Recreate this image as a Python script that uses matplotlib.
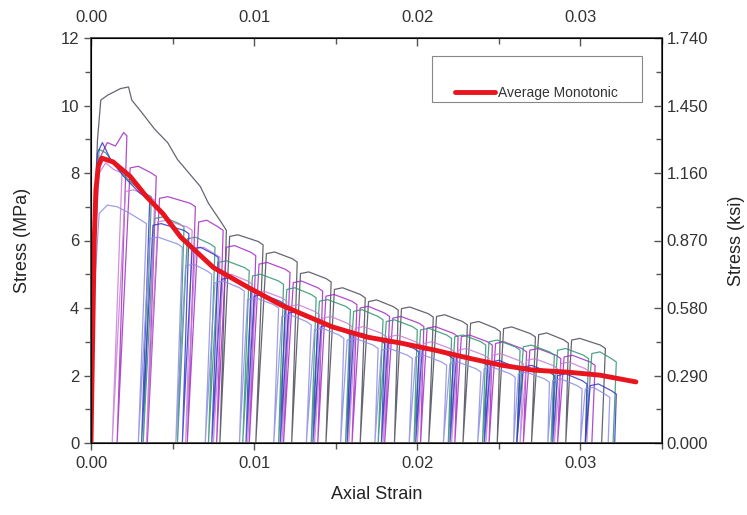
import matplotlib
matplotlib.use("Agg")
import matplotlib.pyplot as plt
from matplotlib.lines import Line2D
from matplotlib.patches import Rectangle
from matplotlib.ticker import MultipleLocator, FormatStrFormatter

plt.rcParams['font.family'] = ['Liberation Sans', 'DejaVu Sans']

# ---------------- data ----------------
# average monotonic curve
avg_strain = [0, 0.0001, 0.0002, 0.0003, 0.00045, 0.00066, 0.00135, 0.0024, 0.0034,
              0.0044, 0.0055, 0.0075, 0.0096, 0.0116, 0.0128, 0.0148, 0.0169, 0.019,
              0.021, 0.0231, 0.0251, 0.0271, 0.0292, 0.0312, 0.0334]
avg_stress = [0, 3.0, 6.0, 7.5, 8.2, 8.44, 8.33, 7.9, 7.3, 6.8, 6.1, 5.2, 4.62, 4.1,
              3.85, 3.44, 3.14, 2.96, 2.76, 2.52, 2.31, 2.16, 2.1, 2.01, 1.81]

# specimen 1 (dark gray)
s1_pre_strain = [0, 0.0002, 0.0004, 0.0006, 0.0010, 0.0018, 0.0023, 0.0025, 0.0031,
                 0.0039, 0.0047, 0.0053, 0.0060, 0.0067, 0.0072, 0.0079]
s1_pre_stress = [0, 6.5, 9.0, 10.16, 10.3, 10.5, 10.55, 10.16, 9.8, 9.3, 8.9, 8.4,
                 8.0, 7.6, 7.1, 6.6]
s1_top_strain = [0.0083, 0.01055, 0.01264, 0.01472, 0.01681, 0.01883, 0.02098,
                 0.02307, 0.02509, 0.02724, 0.02926, 0.03153]
s1_top_stress = [6.3, 5.87, 5.36, 4.77, 4.3, 3.94, 3.73, 3.5, 3.3, 3.14, 2.96, 2.8]
s1_res_strain = [0.0079, 0.0101, 0.0123, 0.0144, 0.0165, 0.0186, 0.0207, 0.0228,
                 0.0249, 0.0270, 0.0291, 0.0313]

# specimen 2 (magenta)
s2_pre_strain = [0, 0.0002, 0.0005, 0.0010, 0.0015, 0.0020]
s2_pre_stress = [0, 5.5, 8.4, 8.9, 8.8, 9.2]
s2_top_strain = [0.0022, 0.0040, 0.0064, 0.0081, 0.0101, 0.0122, 0.0142, 0.0163,
                 0.0183, 0.0204, 0.0225, 0.0246, 0.0267, 0.0288, 0.0309]
s2_top_stress = [9.1, 7.9, 7.0, 6.3, 5.55, 5.05, 4.5, 4.1, 3.75, 3.45, 3.15, 2.9,
                 2.7, 2.5, 2.3]
s2_res_strain = [0.0016, 0.00345, 0.0059, 0.0077, 0.0097, 0.0118, 0.0139, 0.0160,
                 0.0180, 0.0202, 0.0223, 0.0244, 0.0265, 0.0286, 0.0307]

# specimen 3 (green)
s3_pre_strain = [0, 0.0002, 0.0005, 0.0009, 0.0015, 0.0025, 0.0033]
s3_pre_stress = [0, 6.0, 8.7, 8.6, 8.2, 7.7, 7.4]
s3_top_strain = [0.0037, 0.0057, 0.0076, 0.0097, 0.0118, 0.0138, 0.0159, 0.0179,
                 0.0200, 0.0221, 0.0242, 0.0263, 0.0284, 0.0305, 0.0322]
s3_top_stress = [7.3, 6.4, 5.8, 5.1, 4.7, 4.3, 3.95, 3.65, 3.35, 3.1, 2.9, 2.75,
                 2.6, 2.5, 2.4]
s3_res_strain = [0.0032, 0.0053, 0.0072, 0.0093, 0.0115, 0.0135, 0.0156, 0.0176,
                 0.0198, 0.0219, 0.0240, 0.0261, 0.0282, 0.0303, 0.0320]

# specimen 4 (pink violet)
s4_pre_strain = [0, 0.0002, 0.0005, 0.0009, 0.0014]
s4_pre_stress = [0, 5.5, 8.0, 8.3, 8.1]
s4_top_strain = [0.0019, 0.0039, 0.0062, 0.0079, 0.0099, 0.0120, 0.0140, 0.0160,
                 0.0181, 0.0202, 0.0223, 0.0244, 0.0265, 0.0286, 0.0306]
s4_top_stress = [8.0, 7.2, 6.3, 5.5, 4.7, 4.2, 3.8, 3.45, 3.15, 2.9, 2.7, 2.5,
                 2.35, 2.2, 2.1]
s4_res_strain = [0.0013, 0.0034, 0.0058, 0.0075, 0.0096, 0.0117, 0.0137, 0.0158,
                 0.0179, 0.0200, 0.0221, 0.0242, 0.0263, 0.0284, 0.0304]

# specimen 5 (blue)
s5_pre_strain = [0, 0.0002, 0.0004, 0.0007, 0.0012, 0.0020, 0.0030]
s5_pre_stress = [0, 6.5, 8.6, 8.9, 8.4, 7.9, 7.4]
s5_top_strain = [0.0036, 0.0060, 0.0078, 0.0098, 0.0119, 0.0139, 0.0159, 0.0180,
                 0.0201, 0.0222, 0.0243, 0.0263, 0.0284, 0.0304, 0.0322]
s5_top_stress = [7.2, 6.2, 5.5, 4.6, 4.1, 3.6, 3.2, 2.95, 2.7, 2.5, 2.3, 2.15,
                 2.0, 1.75, 1.45]
s5_res_strain = [0.0031, 0.0056, 0.0074, 0.0095, 0.0116, 0.0136, 0.0157, 0.0178,
                 0.0199, 0.0220, 0.0241, 0.0261, 0.0283, 0.0303, 0.0321]

# specimen 6 (lavender)
s6_pre_strain = [0, 0.0002, 0.0005, 0.0010, 0.0016, 0.0024]
s6_pre_stress = [0, 4.5, 6.8, 7.05, 7.0, 6.8]
s6_top_strain = [0.0034, 0.0056, 0.0074, 0.0094, 0.0115, 0.0135, 0.0155, 0.0176,
                 0.0197, 0.0218, 0.0239, 0.0260, 0.0281, 0.0301, 0.0318]
s6_top_stress = [6.5, 5.8, 5.0, 4.5, 4.0, 3.5, 3.1, 2.8, 2.5, 2.3, 2.1, 1.95,
                 1.8, 1.6, 1.35]
s6_res_strain = [0.0029, 0.0052, 0.0070, 0.0091, 0.0112, 0.0132, 0.0153, 0.0174,
                 0.0195, 0.0216, 0.0237, 0.0259, 0.0280, 0.0300, 0.0317]

specimens = [
    (s1_pre_strain, s1_pre_stress, s1_top_strain, s1_top_stress, s1_res_strain, '#4b4b5a'),
    (s2_pre_strain, s2_pre_stress, s2_top_strain, s2_top_stress, s2_res_strain, '#a22cc4'),
    (s3_pre_strain, s3_pre_stress, s3_top_strain, s3_top_stress, s3_res_strain, '#2f9470'),
    (s4_pre_strain, s4_pre_stress, s4_top_strain, s4_top_stress, s4_res_strain, '#c77dd8'),
    (s5_pre_strain, s5_pre_stress, s5_top_strain, s5_top_stress, s5_res_strain, '#3238c8'),
    (s6_pre_strain, s6_pre_stress, s6_top_strain, s6_top_stress, s6_res_strain, '#8d8de4'),
]

left_ticks = [0, 2, 4, 6, 8, 10, 12]
right_ticks = [0.0, 0.29, 0.58, 0.87, 1.16, 1.45, 1.74]
strain_ticks = [0.00, 0.01, 0.02, 0.03]


def cyclic_path(pre_e, pre_s, top_e, top_s, res_e):
    xs = list(pre_e)
    ys = list(pre_s)
    for i in range(len(top_e)):
        if i > 0:
            xs += [top_e[i - 1] + 0.0002, top_e[i - 1] + 0.0007, top_e[i] - 0.0003]
            ys += [top_s[i] + 0.25, top_s[i] + 0.3, top_s[i] + 0.1]
        xs += [top_e[i], res_e[i]]
        ys += [top_s[i], 0.0]
    return xs, ys


# ---------------- figure ----------------
fig = plt.figure(figsize=(7.47, 5.15), dpi=100)
ax = fig.add_axes([91 / 747, 1 - 443 / 515, 571 / 747, 405 / 515])

for pe, ps, te, ts, re_, col in specimens:
    xs, ys = cyclic_path(pe, ps, te, ts, re_)
    ax.plot(xs, ys, color=col, lw=0.9, alpha=0.85, zorder=2)

red_line, = ax.plot(avg_strain, avg_stress, color='#e8141e', lw=3.5,
                    solid_capstyle='round', zorder=5)

ax.set_xlim(0, 0.035)
ax.set_ylim(0, 12)
ax.set_xticks(strain_ticks)
ax.xaxis.set_minor_locator(MultipleLocator(0.005))
ax.xaxis.set_major_formatter(FormatStrFormatter('%.2f'))
ax.set_yticks(left_ticks)
ax.yaxis.set_minor_locator(MultipleLocator(1))

spine_col = '#555555'
for sp in ax.spines.values():
    sp.set_color(spine_col)
    sp.set_linewidth(1.3)

ax.tick_params(axis='both', which='both', direction='out', color=spine_col,
               labelsize=12, labelcolor='#333333', width=1.0)
ax.tick_params(axis='both', which='major', length=5)
ax.tick_params(axis='both', which='minor', length=4)
ax.tick_params(axis='x', pad=4)

ax.set_xlabel('Axial Strain', fontsize=13, color='#222222', labelpad=11)
ax.set_ylabel('Stress (MPa)', fontsize=13, color='#222222', labelpad=21)

# right axis (ksi)
axr = ax.twinx()
axr.set_ylim(0, 1.74)
axr.set_yticks(right_ticks)
axr.yaxis.set_minor_locator(MultipleLocator(0.145))
axr.yaxis.set_major_formatter(FormatStrFormatter('%.3f'))
axr.tick_params(axis='y', which='both', direction='in', color=spine_col,
                labelsize=12, labelcolor='#333333', width=1.0)
axr.tick_params(axis='y', which='major', length=6)
axr.tick_params(axis='y', which='minor', length=4)
axr.set_ylabel('Stress (ksi)', fontsize=13, color='#222222', labelpad=14)
for sp in axr.spines.values():
    sp.set_color(spine_col)
    sp.set_linewidth(1.3)

# top axis (strain)
axt = ax.twiny()
axt.set_xlim(0, 0.035)
axt.set_xticks(strain_ticks)
axt.xaxis.set_minor_locator(MultipleLocator(0.005))
axt.xaxis.set_major_formatter(FormatStrFormatter('%.2f'))
axt.tick_params(axis='x', which='both', direction='in', color=spine_col,
                labelsize=12, labelcolor='#333333', width=1.0, pad=9)
axt.tick_params(axis='x', which='major', length=6)
axt.tick_params(axis='x', which='minor', length=4)

# legend frame and entry
frame = Rectangle((0.597, 0.842), 0.368, 0.114, transform=ax.transAxes,
                  facecolor='white', edgecolor='#888888', lw=0.8, zorder=9)
ax.add_patch(frame)
leg = ax.legend([red_line], ['Average Monotonic'],
                loc='center left', bbox_to_anchor=(0.6375, 0.865),
                fontsize=10, frameon=False, borderaxespad=0.0, borderpad=0.0,
                handlelength=2.9, handletextpad=0.2)
leg.set_zorder(10)
for t in leg.get_texts():
    t.set_color('#333333')

fig.savefig('out.png', dpi=100)
